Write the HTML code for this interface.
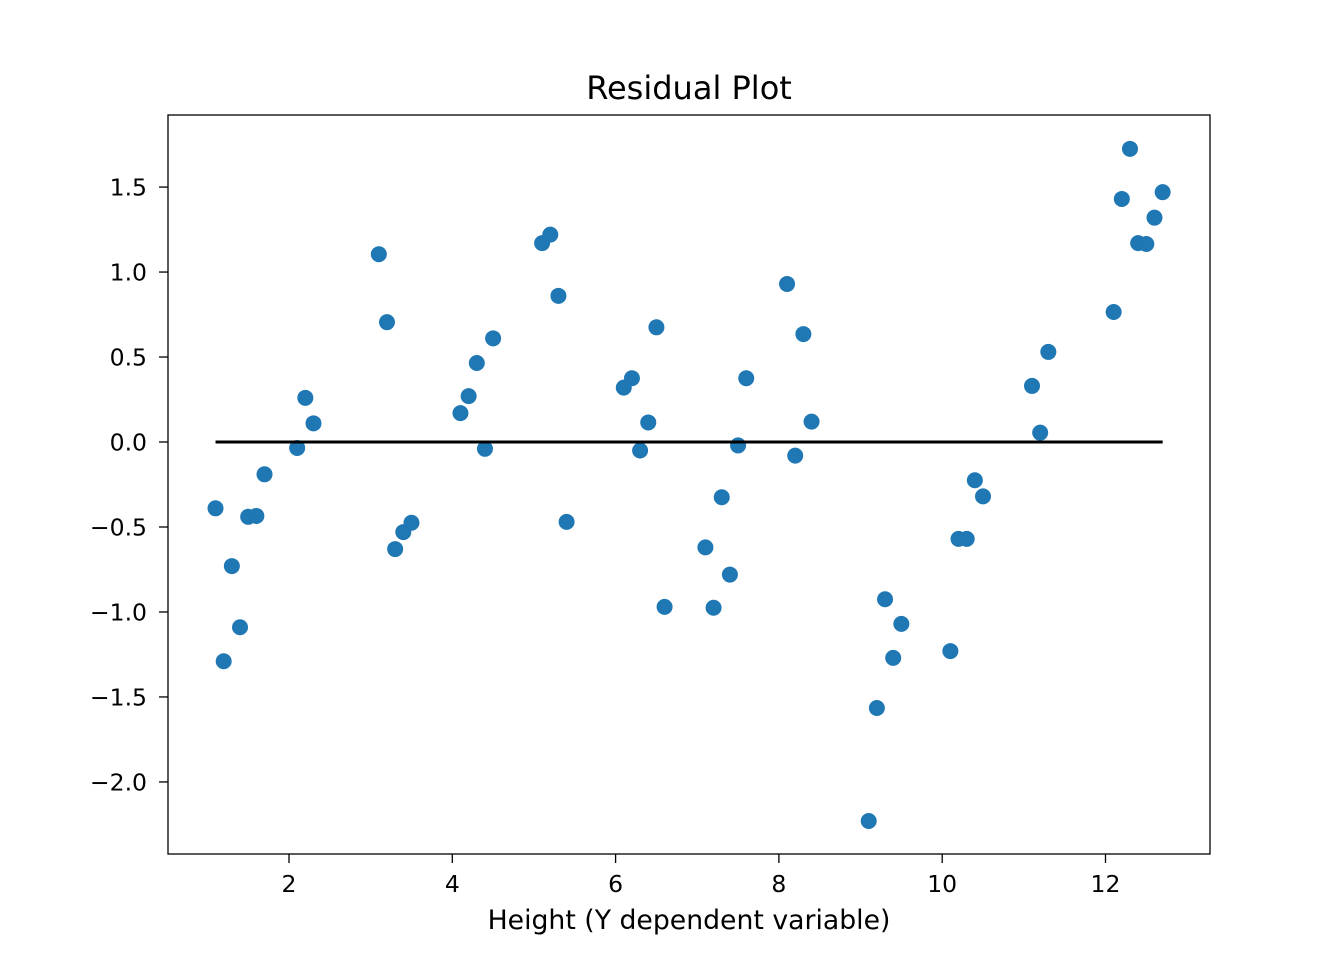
<!DOCTYPE html>
<html><head><meta charset="utf-8"><style>
body{margin:0;background:#fff;}
svg text{font-family:"DejaVu Sans","Liberation Sans",sans-serif;fill:#000;}
</style></head><body>
<svg id="chart" width="1344" height="960" xmlns="http://www.w3.org/2000/svg"></svg>
<script>
const xValues=[1.1,1.2,1.3,1.4,1.5,1.6,1.7,2.1,2.2,2.3,3.1,3.2,3.3,3.4,3.5,4.1,4.2,4.3,4.4,4.5,5.1,5.2,5.3,5.4,6.1,6.2,6.3,6.4,6.5,6.6,7.1,7.2,7.3,7.4,7.5,7.6,8.1,8.2,8.3,8.4,9.1,9.2,9.3,9.4,9.5,10.1,10.2,10.3,10.4,10.5,11.1,11.2,11.3,12.1,12.2,12.3,12.4,12.5,12.6,12.7];
const residuals=[-0.39,-1.29,-0.73,-1.09,-0.44,-0.435,-0.19,-0.035,0.26,0.11,1.105,0.705,-0.63,-0.53,-0.475,0.17,0.27,0.465,-0.04,0.61,1.17,1.22,0.86,-0.47,0.32,0.375,-0.05,0.115,0.675,-0.97,-0.62,-0.975,-0.325,-0.78,-0.02,0.375,0.93,-0.08,0.635,0.12,-2.23,-1.565,-0.925,-1.27,-1.07,-1.23,-0.57,-0.57,-0.225,-0.32,0.33,0.055,0.53,0.765,1.43,1.725,1.17,1.165,1.32,1.47];
const xTicks=[2,4,6,8,10,12];
const yTicks=[1.5,1.0,0.5,0.0,-0.5,-1.0,-1.5,-2.0];
const L=168,R=1210,T=115,B=854;
const xmin=0.518,xmax=13.28,ymin=-2.424,ymax=1.924;
const sx=v=>L+(v-xmin)/(xmax-xmin)*(R-L);
const sy=v=>B-(v-ymin)/(ymax-ymin)*(B-T);
const svg=document.getElementById('chart');
const NS='http://www.w3.org/2000/svg';
function mk(tag,attrs,parent){const e=document.createElementNS(NS,tag);for(const k in attrs)e.setAttribute(k,attrs[k]);(parent||svg).appendChild(e);return e;}
let t=mk('text',{x:689,y:99,'font-size':32,'text-anchor':'middle'});t.textContent='Residual Plot';


t=mk('text',{x:689,y:929,'font-size':26.7,'text-anchor':'middle'});t.textContent='Height (Y dependent variable)';


xTicks.forEach(v=>{
  const x=sx(v);
  const l=mk('line',{x1:x,x2:x,y1:B,y2:B+9,stroke:'#000','stroke-width':1.3});
  
  
  const tx=mk('text',{x:x,y:892,'font-size':23.5,'text-anchor':'middle'});tx.textContent=String(v);
  
  
});
yTicks.forEach(v=>{
  const y=sy(v);
  const l=mk('line',{x1:L-9,x2:L,y1:y,y2:y,stroke:'#000','stroke-width':1.3});
  
  
  const tx=mk('text',{x:147,y:y+8.5,'font-size':23.5,'text-anchor':'end'});
  tx.textContent=(v<0?'\u2212':'')+Math.abs(v).toFixed(1);
  
  
});
xValues.forEach((v,i)=>{
  const c=mk('circle',{cx:sx(v),cy:sy(residuals[i]),r:8,fill:'#1f77b4'});
  
  
});
const zl=mk('line',{x1:sx(Math.min(...xValues)),x2:sx(Math.max(...xValues)),y1:sy(0),y2:sy(0),stroke:'#000','stroke-width':3});


const fr=mk('rect',{x:L,y:T,width:R-L,height:B-T,fill:'none',stroke:'#000','stroke-width':1.3});


</script>
</body></html>
